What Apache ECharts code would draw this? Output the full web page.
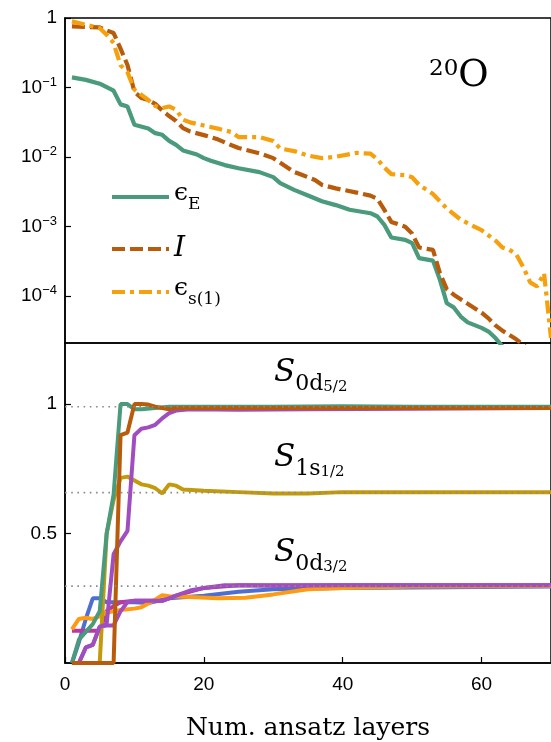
<!DOCTYPE html>
<html>
<head>
<meta charset="utf-8">
<script src="https://cdn.jsdelivr.net/npm/echarts@6/dist/echarts.min.js"></script>
<style>
  html, body { margin: 0; padding: 0; background: #fff; }
  #chart { width: 551px; height: 742px; }
</style>
</head>
<body>
<div id="chart"></div>
<script>
// --- top panel: error measures vs. number of layers (log scale) ---
const layersE = [1, 3, 5, 7, 8, 9, 10, 12, 13, 14, 15, 16, 17, 19, 20, 21, 23, 25, 28, 30, 31, 33, 35, 37, 39, 41,
  44, 45, 46, 47, 49, 50, 51, 53, 54, 55, 56, 57, 58, 60, 61, 62, 63];
const epsE = [0.140, 0.129, 0.1135, 0.090, 0.0573, 0.0535, 0.0292, 0.0258, 0.0221, 0.0209, 0.0171, 0.0150, 0.01245,
  0.0109, 0.00966, 0.00885, 0.00767, 0.00692, 0.00608, 0.00515, 0.00422, 0.00338, 0.00281, 0.00232, 0.00204, 0.00175,
  0.00156, 0.00140, 0.00106, 0.000698, 0.000646, 0.000578, 0.000352, 0.000325, 0.000172, 7.9e-5, 6.9e-5, 5.1e-5,
  4.2e-5, 3.5e-5, 3.1e-5, 2.5e-5, 1.9e-5];

const layersI = [1, 3, 5, 6, 7, 8, 9, 10, 11, 12, 13, 14, 15, 16, 17, 18, 20, 22, 24, 25, 28, 30, 31, 33, 34, 36, 37,
  39, 42, 44, 45, 46, 47, 49, 50, 51, 53, 54, 55, 56, 58, 60, 61, 62, 63, 65, 66, 67];
const infid = [0.757, 0.741, 0.733, 0.664, 0.608, 0.363, 0.211, 0.087, 0.0708, 0.0661, 0.0582, 0.0468, 0.0389, 0.0331,
  0.0261, 0.0234, 0.0207, 0.0180, 0.0148, 0.0135, 0.01135, 0.00966, 0.00832, 0.0061, 0.00562, 0.00468, 0.00399,
  0.00355, 0.00309, 0.00279, 0.00251, 0.00174, 0.00117, 0.00100, 0.000794, 0.000501, 0.000463, 0.000214, 0.000126,
  0.000105, 7.8e-5, 5.8e-5, 4.8e-5, 3.8e-5, 3.2e-5, 2.4e-5, 2.0e-5, 1.6e-5];

const layersS = [1, 3, 5, 6, 7, 8, 9, 10, 12, 13, 14, 15, 16, 17, 18, 20, 22, 24, 25, 28, 30, 31, 33, 35, 37, 39, 42,
  44, 45, 46, 47, 49, 50, 51, 53, 55, 57, 58, 60, 62, 63, 64, 65, 66, 67, 68, 69, 70];
const epsS1 = [0.895, 0.80, 0.718, 0.575, 0.437, 0.209, 0.166, 0.0933, 0.0661, 0.0543, 0.0507, 0.0535, 0.048, 0.0344,
  0.0316, 0.0285, 0.0257, 0.0229, 0.0194, 0.0194, 0.0170, 0.0133, 0.0122, 0.0105, 0.00966, 0.0101, 0.0115, 0.0112,
  0.00933, 0.00708, 0.00569, 0.0055, 0.00513, 0.00398, 0.00295, 0.00182, 0.00126, 0.00112, 0.00089, 0.00063, 0.0005,
  0.000468, 0.000398, 0.000263, 0.000158, 0.000138, 0.000214, 2.5e-5];

const logTicks = [-4, -3, -2, -1, 0];

// --- bottom panel: orbital occupations ---
const layersG5 = [1, 2, 3, 4, 5, 6, 7, 8, 9, 10, 11, 13, 15, 20, 30, 40, 50, 60, 70];
const occG5 = [0, 0.09, 0.12, 0.15, 0.2, 0.5, 0.65, 1.0, 1.0, 0.98, 0.98, 0.985, 0.99, 0.99, 0.99, 0.992, 0.99, 0.99, 0.99];

const layersB5 = [1, 7, 8, 9, 10, 11, 12, 13, 15, 16, 20, 30, 70];
const occB5 = [0, 0, 0.88, 0.89, 1.0, 1.0, 0.998, 0.99, 0.98, 0.985, 0.985, 0.985, 0.985];

const layersP5 = [1, 2, 3, 4, 5, 6, 7, 8, 9, 10, 11, 12, 13, 14, 15, 16, 18, 25, 35, 50, 70];
const occP5 = [0, 0, 0.06, 0.07, 0.14, 0.15, 0.42, 0.47, 0.51, 0.88, 0.905, 0.91, 0.92, 0.945, 0.965, 0.975, 0.98, 0.978,
  0.98, 0.982, 0.985];

const layersO1 = [1, 5, 6, 7, 8, 9, 10, 11, 12, 13, 14, 15, 16, 17, 20, 25, 30, 35, 40, 50, 70];
const occO1 = [0, 0, 0.5, 0.63, 0.715, 0.72, 0.705, 0.69, 0.685, 0.675, 0.655, 0.69, 0.685, 0.67, 0.665, 0.66, 0.655,
  0.655, 0.66, 0.66, 0.66];

const layersOr3 = [1, 2, 3, 4, 5, 6, 7, 8, 10, 11, 12, 13, 14, 15, 18, 22, 26, 30, 35, 40, 50, 70];
const occOr3 = [0.13, 0.17, 0.175, 0.17, 0.18, 0.195, 0.2, 0.205, 0.21, 0.215, 0.23, 0.245, 0.262, 0.258, 0.255, 0.25,
  0.252, 0.265, 0.285, 0.29, 0.295, 0.297];

const layersP3 = [1, 2, 3, 4, 5, 6, 7, 8, 9, 10, 12, 14, 16, 18, 20, 23, 30, 40, 70];
const occP3 = [0, 0, 0.06, 0.07, 0.14, 0.145, 0.145, 0.2, 0.235, 0.24, 0.24, 0.24, 0.26, 0.28, 0.29, 0.3, 0.298, 0.3, 0.3];

const layersM3 = [1, 2, 3, 4, 5, 6, 7, 8, 10, 14, 16, 20, 25, 70];
const occM3 = [0.125, 0.125, 0.125, 0.125, 0.125, 0.2, 0.22, 0.235, 0.24, 0.24, 0.26, 0.29, 0.3, 0.3];

const layersBl3 = [1, 2, 3, 4, 5, 6, 8, 10, 12, 15, 20, 25, 30, 40, 70];
const occBl3 = [0, 0.08, 0.17, 0.25, 0.25, 0.235, 0.235, 0.235, 0.232, 0.25, 0.26, 0.275, 0.285, 0.29, 0.295];

const refLevels = [0.99, 0.658, 0.297];
const occTicks = [0.5, 1];
const layerTicks = [0, 20, 40, 60];

const pairs = (xs, ys, f) => xs.map((x, i) => [x, f ? f(ys[i]) : ys[i]]);

const GREEN = '#4a9a7c', BROWN = '#b85c0c', ORANGE_T = '#f5a00c';
const PURPLE = '#a04dc0', OLIVE = '#c39a0c', ORANGE = '#ff9a14', BLUE = '#4f6fd0', MAGENTA = '#b83a9e';

const chart = echarts.init(document.getElementById('chart'), null, { renderer: 'canvas' });

const tickFont = { fontFamily: 'Liberation Sans', color: '#000' };
const serif = 'DejaVu Serif';

function topLine(name, xs, ys, color, type) {
  return {
    name, type: 'line', xAxisIndex: 0, yAxisIndex: 0, symbol: 'none', z: 3,
    data: pairs(xs, ys, Math.log10),
    lineStyle: { color, width: 4.2, type }, itemStyle: { color }
  };
}
function occLine(xs, ys, color, z) {
  return {
    type: 'line', xAxisIndex: 1, yAxisIndex: 1, symbol: 'none', z,
    data: pairs(xs, ys), lineStyle: { color, width: 4 }, itemStyle: { color }
  };
}
function refLine(v) {
  return {
    type: 'line', xAxisIndex: 1, yAxisIndex: 1, symbol: 'none', z: 10, silent: true,
    data: [[0, v], [70, v]], lineStyle: { color: '#8a8a8a', width: 1.6, type: [1.6, 4.6] }
  };
}

function sLabel(top, sub, subsub) {
  return {
    type: 'text', left: 274, top,
    style: {
      text: '{s|S}{a|' + sub + '}{b|' + subsub + '}',
      rich: {
        s: { fontFamily: serif, fontStyle: 'italic', fontSize: 31, lineHeight: 38, verticalAlign: 'top', fill: '#000' },
        a: { fontFamily: serif, fontSize: 22, lineHeight: 22, verticalAlign: 'bottom', fill: '#000' },
        b: { fontFamily: serif, fontSize: 15, lineHeight: 12, verticalAlign: 'bottom', fill: '#000' }
      }
    }
  };
}

const legendText = { eE: '{e|ϵ}{s|E}', I: '{i|I}', es: '{e|ϵ}{s|s(1)}' };
const legendRows = [['eE', 176], ['I', 230], ['es', 271]];

function legendRow([name, top]) {
  return {
    data: [name], orient: 'vertical', left: 105, top,
    itemWidth: 57, itemHeight: 14, selectedMode: false,
    itemStyle: { opacity: 0 }, lineStyle: { width: 4 },
    formatter: n => legendText[n],
    textStyle: {
      rich: {
        e: { fontFamily: serif, fontSize: 25, lineHeight: 32, verticalAlign: 'top', color: '#000' },
        s: { fontFamily: serif, fontSize: 17, lineHeight: 17, verticalAlign: 'bottom', color: '#000' },
        i: { fontFamily: serif, fontStyle: 'italic', fontSize: 28, lineHeight: 32, color: '#000' }
      }
    }
  };
}

chart.setOption({
  animation: false,
  backgroundColor: '#fff',
  grid: [
    { left: 65, right: -2, top: 18, height: 325, show: true, borderColor: '#000', borderWidth: 1.5, backgroundColor: 'transparent' },
    { left: 65, right: -2, top: 343, height: 320, show: true, borderColor: '#000', borderWidth: 1.5, backgroundColor: 'transparent' }
  ],
  xAxis: [
    {
      gridIndex: 0, type: 'value', min: 0, max: 70,
      axisLine: { show: false }, axisTick: { show: false }, axisLabel: { show: false }, splitLine: { show: false }
    },
    {
      gridIndex: 1, type: 'value', min: 0, max: 70,
      axisLine: { show: true, lineStyle: { color: '#000', width: 1.5 } },
      axisTick: { show: true, inside: true, length: 6, customValues: layerTicks, lineStyle: { color: '#000', width: 1.2 } },
      axisLabel: { ...tickFont, fontSize: 19, margin: 12, customValues: layerTicks },
      splitLine: { show: false },
      name: 'Num. ansatz layers', nameLocation: 'middle', nameGap: 53,
      nameTextStyle: { fontFamily: serif, fontSize: 25, color: '#000' }
    }
  ],
  yAxis: [
    {
      gridIndex: 0, type: 'value', min: -4.673, max: 0,
      axisLine: { show: true, lineStyle: { color: '#000', width: 1.5 } },
      axisTick: { show: true, inside: true, length: 6, customValues: logTicks, lineStyle: { color: '#000', width: 1.2 } },
      axisLabel: {
        customValues: logTicks, margin: 8,
        formatter: v => (Math.round(v) === 0 ? '{b|1}' : '{b|10}{p|\u2212' + Math.round(-v) + '}'),
        rich: {
          b: { ...tickFont, fontSize: 19, lineHeight: 24 },
          p: { ...tickFont, fontSize: 13, lineHeight: 14, verticalAlign: 'top' }
        }
      },
      splitLine: { show: false }
    },
    {
      gridIndex: 1, type: 'value', min: 0, max: 1.236,
      axisLine: { show: true, lineStyle: { color: '#000', width: 1.5 } },
      axisTick: { show: true, inside: true, length: 6, customValues: occTicks, lineStyle: { color: '#000', width: 1.2 } },
      axisLabel: { ...tickFont, fontSize: 19, margin: 8, customValues: occTicks, formatter: v => String(v) },
      splitLine: { show: false }
    }
  ],
  legend: legendRows.map(legendRow),
  series: [
    topLine('eE', layersE, epsE, GREEN, 'solid'),
    topLine('I', layersI, infid, BROWN, [13, 5]),
    topLine('es', layersS, epsS1, ORANGE_T, [13, 5, 4, 5]),
    occLine(layersBl3, occBl3, BLUE, 2),
    occLine(layersM3, occM3, MAGENTA, 3),
    occLine(layersOr3, occOr3, ORANGE, 4),
    occLine(layersP3, occP3, PURPLE, 5),
    occLine(layersO1, occO1, OLIVE, 6),
    occLine(layersP5, occP5, PURPLE, 7),
    occLine(layersG5, occG5, GREEN, 8),
    occLine(layersB5, occB5, BROWN, 9),
    ...refLevels.map(refLine)
  ],
  graphic: [
    {
      type: 'text', left: 429, top: 58,
      style: {
        text: '{p|20}{o|O}',
        rich: {
          p: { fontFamily: serif, fontSize: 23, lineHeight: 24, verticalAlign: 'top', fill: '#000' },
          o: { fontFamily: serif, fontSize: 37, lineHeight: 42, verticalAlign: 'top', fill: '#000' }
        }
      }
    },
    sLabel(357, '0d', '5/2'),
    sLabel(442, '1s', '1/2'),
    sLabel(537, '0d', '3/2')
  ]
});
</script>
</body>
</html>
